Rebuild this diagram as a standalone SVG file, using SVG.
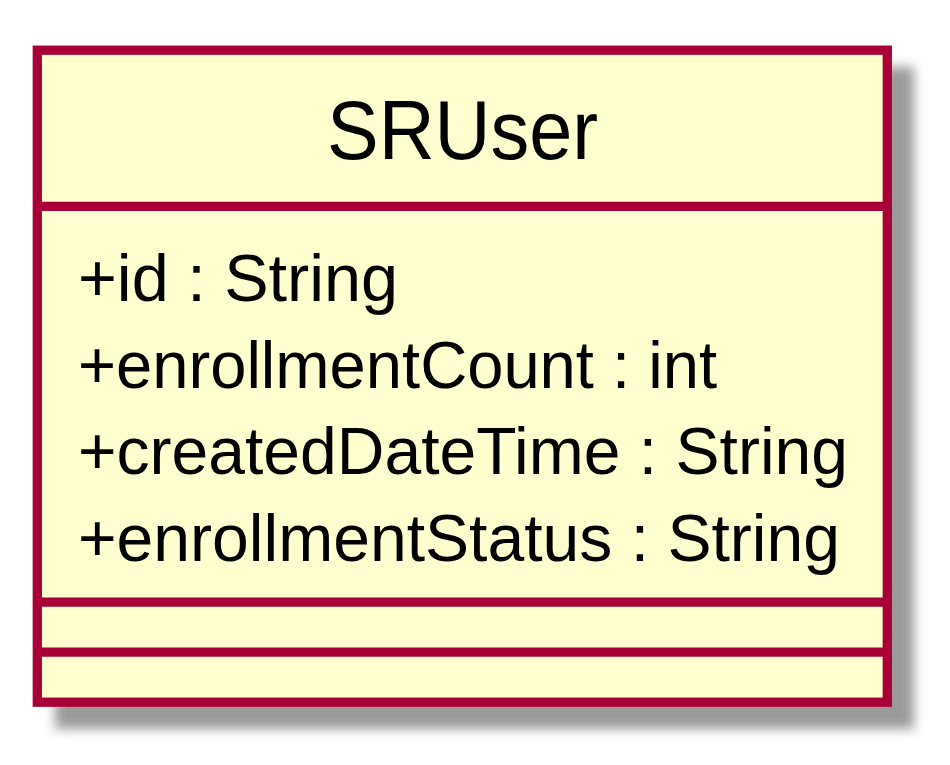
<svg xmlns="http://www.w3.org/2000/svg" width="950" height="765" viewBox="0 0 950 765">
<defs>
<filter id="blur" x="-10%" y="-10%" width="120%" height="120%"><feGaussianBlur stdDeviation="6"/></filter>
<style>
.box{fill:#FEFECE;stroke:#A80036;stroke-width:9.3}
.sep{stroke:#A80036;stroke-width:9.3}
.t{font-family:"Liberation Sans",Arial,sans-serif;fill:#000}
</style>
</defs>
<rect width="950" height="765" fill="#FFFFFF"/>
<g id="SRUser">
<rect x="55" y="67" width="859" height="662" fill="#9a9a9a" filter="url(#blur)"/>
<rect class="box" x="37.3" y="50.2" width="850" height="652"/>
<line class="sep" x1="37.3" y1="206.3" x2="887.3" y2="206.3"/>
<line class="sep" x1="37.3" y1="602.2" x2="887.3" y2="602.2"/>
<line class="sep" x1="37.3" y1="652.2" x2="887.3" y2="652.2"/>
<text class="t" x="327" y="159" font-size="84" textLength="271" lengthAdjust="spacingAndGlyphs">SRUser</text>
<text class="t" x="78" y="301" font-size="66" textLength="320" lengthAdjust="spacingAndGlyphs">+id : String</text>
<text class="t" x="78" y="388" font-size="66" textLength="639" lengthAdjust="spacingAndGlyphs">+enrollmentCount : int</text>
<text class="t" x="78" y="474" font-size="66" textLength="770" lengthAdjust="spacingAndGlyphs">+createdDateTime : String</text>
<text class="t" x="78" y="561" font-size="66" textLength="762" lengthAdjust="spacingAndGlyphs">+enrollmentStatus : String</text>
</g>
</svg>
